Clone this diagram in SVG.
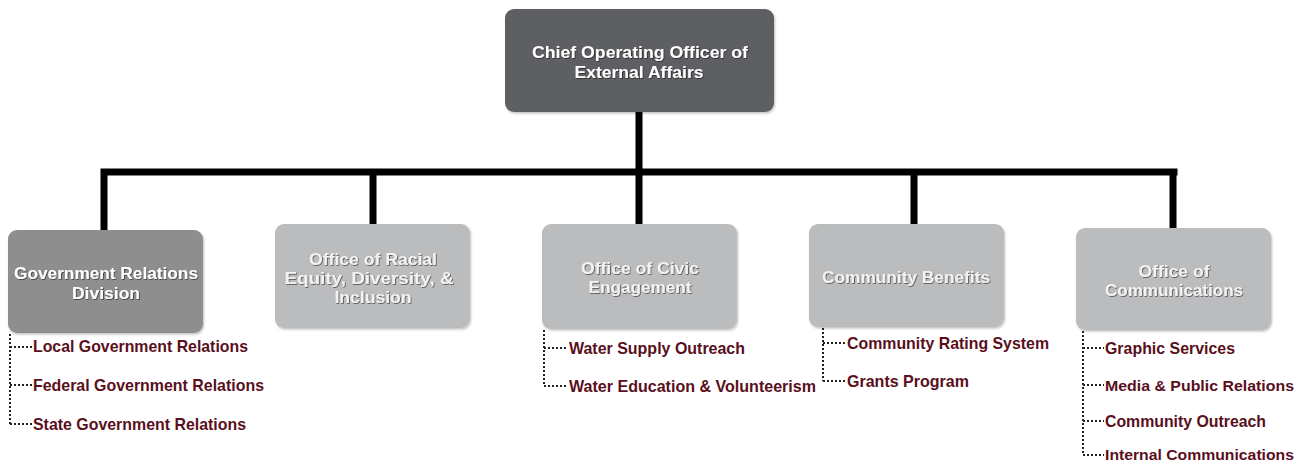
<svg xmlns="http://www.w3.org/2000/svg" width="1306" height="465" viewBox="0 0 1306 465">
<defs>
<filter id="ts" x="-10%" y="-30%" width="120%" height="160%">
<feDropShadow dx="0.8" dy="0.8" stdDeviation="0.6" flood-color="#000" flood-opacity="0.6"/>
</filter>
<filter id="bs" x="-5%" y="-5%" width="110%" height="115%">
<feDropShadow dx="1" dy="1.5" stdDeviation="1.2" flood-color="#000" flood-opacity="0.25"/>
</filter>
</defs>
<style>
.box{stroke:none;filter:url(#bs)}
.top{fill:#5d5f62}
.gov{fill:#8e8e8e}
.lt{fill:#bbbcbe}
.bt{font-family:"Liberation Sans",Arial,sans-serif;font-weight:bold;font-size:16.5px;fill:#ffffff;text-anchor:middle}
.bt2{font-family:"Liberation Sans",Arial,sans-serif;font-weight:bold;font-size:16.5px;fill:#f2f2f2;text-anchor:middle}
.sh{filter:url(#ts)}
.st{font-family:"Liberation Sans",Arial,sans-serif;font-weight:bold;font-size:17px;fill:#5a0f1c}
.st.sm{font-size:15.5px}
.solid{stroke:#000;stroke-width:7;fill:none;stroke-linecap:square}
.dot{stroke:#222;stroke-width:2;fill:none;stroke-dasharray:2 2}
</style>
<g id="connectors">
<path class="solid" d="M639 113 V172 M104 172 H1174 M104 172 V229 M373 172 V223 M639 172 V223 M914 172 V223 M1173 172 V227"/>
<path class="dot" d="M10 334 V425 M10 347 H32 M10 385 H32 M10 424 H32"/>
<path class="dot" d="M544 330 V386 M544 348 H568 M544 386 H568"/>
<path class="dot" d="M823 328 V381 M823 343 H846 M823 381 H846"/>
<path class="dot" d="M1083 331 V455 M1083 348 H1104 M1083 385 H1104 M1083 421 H1104 M1083 455 H1104"/>
</g>
<g id="coo">
<rect class="box top" x="505" y="9" width="269" height="103" rx="9"/>
<g class="sh"><text class="bt" x="640" y="58" textLength="216" lengthAdjust="spacingAndGlyphs">Chief Operating Officer of</text>
<text class="bt" x="639" y="78" textLength="129" lengthAdjust="spacingAndGlyphs">External Affairs</text></g>
</g>
<g id="gov">
<rect class="box gov" x="8" y="230" width="195" height="103" rx="9"/>
<g class="sh"><text class="bt" x="106" y="279" textLength="184" lengthAdjust="spacingAndGlyphs">Government Relations</text>
<text class="bt" x="106" y="299" textLength="68" lengthAdjust="spacingAndGlyphs">Division</text></g>
<text class="st" x="33" y="352" textLength="215" lengthAdjust="spacingAndGlyphs">Local Government Relations</text>
<text class="st" x="33" y="391" textLength="231" lengthAdjust="spacingAndGlyphs">Federal Government Relations</text>
<text class="st" x="33" y="430" textLength="213" lengthAdjust="spacingAndGlyphs">State Government Relations</text>
</g>
<g id="racial">
<rect class="box lt" x="275" y="224" width="195" height="104" rx="9"/>
<g class="sh"><text class="bt2" x="373" y="265" textLength="128" lengthAdjust="spacingAndGlyphs">Office of Racial</text>
<text class="bt2" x="369" y="284" textLength="169" lengthAdjust="spacingAndGlyphs">Equity, Diversity, &amp;</text>
<text class="bt2" x="373" y="303" textLength="77" lengthAdjust="spacingAndGlyphs">Inclusion</text></g>
</g>
<g id="civic">
<rect class="box lt" x="542" y="224" width="195" height="105" rx="9"/>
<g class="sh"><text class="bt2" x="640" y="274" textLength="118" lengthAdjust="spacingAndGlyphs">Office of Civic</text>
<text class="bt2" x="640" y="293" textLength="103" lengthAdjust="spacingAndGlyphs">Engagement</text></g>
<text class="st" x="569" y="354" textLength="176" lengthAdjust="spacingAndGlyphs">Water Supply Outreach</text>
<text class="st" x="569" y="392" textLength="247" lengthAdjust="spacingAndGlyphs">Water Education &amp; Volunteerism</text>
</g>
<g id="benefits">
<rect class="box lt" x="809" y="224" width="195" height="103" rx="9"/>
<g class="sh"><text class="bt2" x="906" y="283" textLength="168" lengthAdjust="spacingAndGlyphs">Community Benefits</text></g>
<text class="st" x="847" y="349" textLength="202" lengthAdjust="spacingAndGlyphs">Community Rating System</text>
<text class="st" x="847" y="387" textLength="122" lengthAdjust="spacingAndGlyphs">Grants Program</text>
</g>
<g id="comms">
<rect class="box lt" x="1076" y="228" width="195" height="102" rx="9"/>
<g class="sh"><text class="bt2" x="1174" y="277" textLength="71" lengthAdjust="spacingAndGlyphs">Office of</text>
<text class="bt2" x="1174" y="296" textLength="138" lengthAdjust="spacingAndGlyphs">Communications</text></g>
<text class="st" x="1105" y="354" textLength="130" lengthAdjust="spacingAndGlyphs">Graphic Services</text>
<text class="st sm" x="1105" y="391" textLength="189" lengthAdjust="spacingAndGlyphs">Media &amp; Public Relations</text>
<text class="st" x="1105" y="427" textLength="161" lengthAdjust="spacingAndGlyphs">Community Outreach</text>
<text class="st sm" x="1105" y="460" textLength="189" lengthAdjust="spacingAndGlyphs">Internal Communications</text>
</g>
</svg>
